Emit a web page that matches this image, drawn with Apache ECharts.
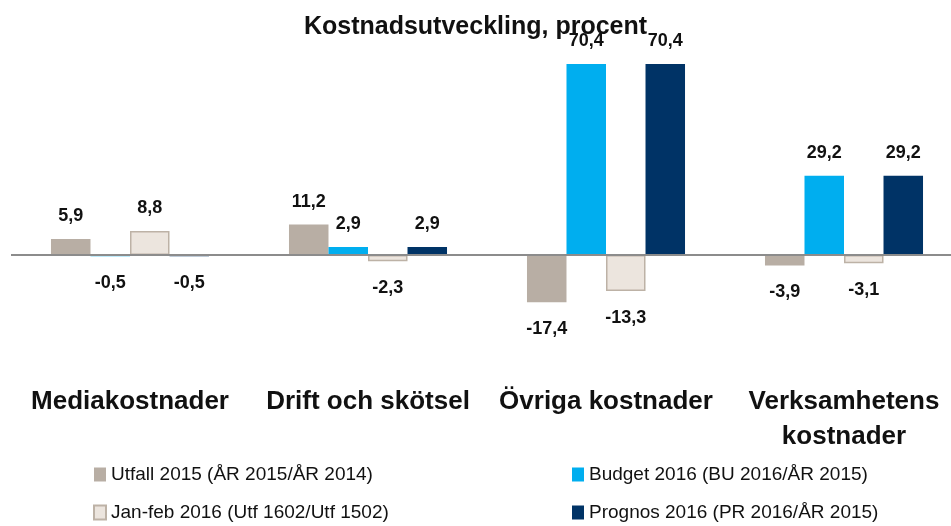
<!DOCTYPE html>
<html>
<head>
<meta charset="utf-8">
<script src="https://cdn.jsdelivr.net/npm/echarts@6/dist/echarts.min.js"></script>
<style>
    html, body { margin: 0; padding: 0; background: #fff; }
    #main { width: 951px; height: 526px; }
</style>
</head>
<body>
<div id="main"></div>
<script>
    var categories = ['Mediakostnader', 'Drift och skötsel', 'Övriga kostnader', 'Verksamhetens\nkostnader']
    var seriesNames = ['Utfall 2015 (ÅR 2015/ÅR 2014)', 'Budget 2016 (BU 2016/ÅR 2015)', 'Jan-feb 2016 (Utf 1602/Utf 1502)', 'Prognos 2016 (PR 2016/ÅR 2015)']
    var utfall = [5.9, 11.2, -17.4, -3.9]
    var budget = [-0.5, 2.9, 70.4, 29.2]
    var janfeb = [8.8, -2.3, -13.3, -3.1]
    var prognos = [-0.5, 2.9, 70.4, 29.2]

    var font = '"Liberation Sans", Arial, sans-serif'
    var colors = ['#B8AEA4', '#00AEEF', '#ECE5DE', '#003366']

    // positive labels above, negative below
    function toData (arr) {
        return arr.map(function (v) {
            return {
                value: v,
                label: v < 0 ? { position: 'bottom', distance: 18 } : { position: 'top', distance: 14 }
            }
        })
    }

    function makeSeries (idx, values) {
        var s = {
            name: seriesNames[idx],
            type: 'bar',
            barGap: '0%',
            barCategoryGap: '33.6%',
            itemStyle: { color: colors[idx] },
            label: {
                show: true,
                fontFamily: font,
                fontWeight: 'bold',
                fontSize: 18,
                color: '#111',
                formatter: function (p) { return String(p.value).replace('.', ',') }
            },
            data: toData(values)
        }
        if (idx === 2) {
            s.itemStyle.borderColor = '#BDB2A6'
            s.itemStyle.borderWidth = 1.5
        }
        return s
    }

    var series = [
        makeSeries(0, utfall),
        makeSeries(1, budget),
        makeSeries(2, janfeb),
        makeSeries(3, prognos)
    ]
    series[0].markLine = {
        silent: true,
        symbol: 'none',
        label: { show: false },
        lineStyle: { color: '#8C8C8C', width: 2, type: 'solid' },
        data: [{ yAxis: 0 }]
    }

    var legendText = { fontFamily: font, fontSize: 19, lineHeight: 19, color: '#111' }

    var option = {
        animation: false,
        title: {
            text: 'Kostnadsutveckling, procent',
            left: 'center',
            top: 10,
            textStyle: { fontFamily: font, fontWeight: 'bold', fontSize: 25, color: '#111' }
        },
        legend: [{
            data: [seriesNames[0], seriesNames[2]],
            orient: 'vertical',
            left: 93,
            top: 465,
            padding: 0,
            icon: 'rect',
            itemWidth: 12,
            itemHeight: 14,
            itemGap: 19,
            textStyle: legendText
        }, {
            data: [seriesNames[1], seriesNames[3]],
            orient: 'vertical',
            left: 572,
            top: 465,
            padding: 0,
            icon: 'rect',
            itemWidth: 12,
            itemHeight: 14,
            itemGap: 19,
            textStyle: legendText
        }],
        grid: {
            left: 11,
            top: 51.5,
            width: 952,
            height: 257.7,
            outerBoundsMode: 'none'
        },
        xAxis: {
            type: 'category',
            data: categories,
            axisLine: { show: false, onZero: false },
            axisTick: { show: false },
            axisLabel: {
                margin: 75,
                interval: 0,
                fontFamily: font,
                fontWeight: 'bold',
                fontSize: 26,
                lineHeight: 35,
                color: '#111'
            }
        },
        yAxis: {
            type: 'value',
            min: -20,
            max: 75,
            show: false,
            splitLine: { show: false }
        },
        series: series
    }

    var myChart = echarts.init(document.getElementById('main'))
    myChart.setOption(option)
</script>
</body>
</html>
